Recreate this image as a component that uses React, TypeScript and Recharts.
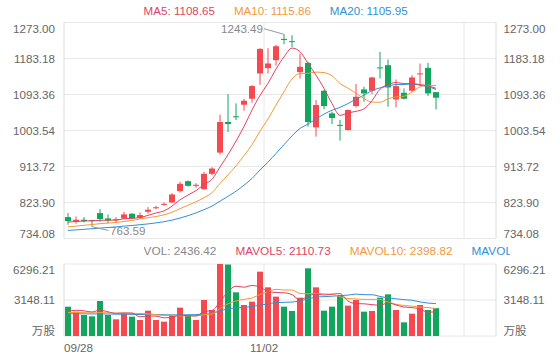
import { ComposedChart, Bar, Line, XAxis, YAxis, CartesianGrid, ReferenceLine, ReferenceDot, Cell } from 'recharts'

const RED = '#f5484f'
const GREEN = '#12a55c'
const C5 = '#e04462'
const C10 = '#f39a38'
const C20 = '#3390d4'
const GRID = '#e8e8e8'
const AXIS = '#dcdcdc'
const LABEL = '#666'
const FONT = '"Liberation Sans", Arial, "Noto Sans CJK SC", sans-serif'
const FS = 11.6

const DATES = [
  '09/28', '10/01', '10/02', '10/03', '10/04', '10/05', '10/08', '10/09', '10/10', '10/11',
  '10/12', '10/15', '10/16', '10/17', '10/18', '10/19', '10/22', '10/23', '10/24', '10/25',
  '10/26', '10/29', '10/30', '10/31', '11/01', '11/02', '11/05', '11/06', '11/07', '11/08',
  '11/09', '11/12', '11/13', '11/14', '11/15', '11/16', '11/19', '11/20', '11/21', '11/23',
  '11/26', '11/27', '11/28', '11/29', '11/30', '12/03', '12/04',
]

const OPEN = [
  787.5, 775.9, 780.9, 779.9, 797.5, 784.2, 780.0, 784.2, 795.8, 785.9,
  800.8, 810.0, 818.5, 824.0, 852.2, 877.1, 866.0, 857.2, 895.4, 948.4,
  1024.7, 1039.0, 1067.9, 1082.8, 1145.8, 1159.1, 1179.0, 1232.0, 1226.5, 1149.1,
  1172.3, 1011.4, 1102.7, 1046.3, 1017.5, 1004.8, 1064.5, 1106.0, 1102.7, 1161.0,
  1166.5, 1081.1, 1097.7, 1102.7, 1144.0, 1159.9, 1099.3,
]
const HIGH = [
  797.5, 789.2, 787.5, 780.9, 807.4, 794.2, 787.5, 800.8, 797.5, 799.1,
  812.4, 815.7, 824.0, 847.3, 875.5, 878.8, 872.1, 900.3, 911.9, 1043.0,
  1094.4, 1071.2, 1082.8, 1117.6, 1208.8, 1208.8, 1217.1, 1243.49, 1241.2, 1195.5,
  1175.6, 1079.4, 1104.3, 1050.4, 1029.7, 1056.2, 1119.3, 1112.6, 1137.5, 1199.7,
  1180.6, 1130.9, 1108.5, 1141.6, 1170.7, 1172.3, 1099.3,
]
const LOW = [
  768.4, 770.9, 774.2, 763.59, 775.9, 772.6, 774.2, 782.5, 782.5, 782.5,
  795.8, 807.4, 815.7, 822.4, 848.9, 863.8, 860.5, 855.6, 892.0, 943.5,
  999.9, 1029.7, 1052.9, 1072.8, 1117.6, 1145.8, 1165.7, 1218.8, 1212.1, 1133.3,
  1013.1, 988.2, 1056.2, 1019.7, 978.3, 1003.1, 1061.2, 1075.3, 1094.4, 1133.3,
  1062.9, 1061.2, 1081.1, 1100.2, 1115.9, 1089.4, 1056.2,
]
const CLOSE = [
  777.6, 780.9, 777.6, 778.6, 782.5, 779.2, 782.0, 794.2, 784.2, 792.5,
  805.8, 812.0, 820.5, 843.9, 870.5, 865.5, 868.0, 895.4, 908.6, 1024.7,
  1019.8, 1037.0, 1077.8, 1114.3, 1207.2, 1170.7, 1213.8, 1230.0, 1224.5, 1162.4,
  1024.7, 1067.0, 1064.5, 1034.7, 1015.5, 1054.6, 1087.7, 1096.0, 1135.8, 1159.0,
  1111.0, 1114.3, 1082.8, 1135.8, 1146.0, 1096.0, 1085.3,
]

const MA5 = [
  775.0, 776.5, 777.6, 778.4, 779.4, 779.8, 780.0, 783.3, 784.4, 786.4,
  791.7, 797.7, 803.0, 814.9, 830.5, 842.5, 853.7, 868.7, 881.6, 912.4,
  943.3, 977.1, 1013.6, 1054.7, 1091.2, 1121.4, 1156.8, 1187.2, 1209.2, 1200.3,
  1171.0, 1141.7, 1108.6, 1070.7, 1041.3, 1047.3, 1051.4, 1057.7, 1077.9, 1106.6,
  1117.9, 1123.2, 1120.6, 1120.6, 1118.0, 1115.0, 1108.65,
]
const MA10 = [
  763.0, 765.0, 767.0, 769.0, 771.0, 772.5, 774.0, 776.5, 779.0, 782.9,
  785.8, 788.9, 793.2, 799.7, 808.5, 817.1, 825.7, 835.8, 848.3, 871.5,
  892.9, 915.4, 941.1, 968.2, 1001.8, 1032.4, 1066.9, 1100.4, 1132.0, 1145.8,
  1146.2, 1149.2, 1147.9, 1140.0, 1120.8, 1109.2, 1096.6, 1083.2, 1074.3, 1074.0,
  1082.6, 1087.3, 1089.1, 1099.3, 1112.3, 1116.4, 1115.86,
]
const MA20 = [
  754.3, 755.5, 757.0, 758.5, 760.0, 761.5, 763.0, 765.0, 766.5, 768.5,
  770.5, 773.0, 776.0, 780.0, 785.0, 791.0, 798.0, 806.0, 815.0, 827.2,
  839.3, 852.1, 867.1, 883.9, 905.2, 924.7, 946.3, 968.1, 990.1, 1008.6,
  1019.6, 1032.3, 1044.5, 1054.1, 1061.3, 1070.8, 1081.7, 1091.8, 1103.1, 1109.9,
  1114.4, 1118.3, 1118.5, 1119.6, 1116.5, 1112.8, 1105.95,
]

const VOL = [
  2563, 2128, 1836, 1720, 3061, 1836, 1458, 1982, 1691, 1399,
  2215, 1399, 1253, 1836, 2478, 1836, 1399, 3148, 2274, 6296.21,
  6250, 3819, 2711, 3002, 5626, 4256, 3440, 2565, 2186, 3352,
  5918, 4256, 2215, 2565, 3585, 2653, 3148, 2128, 2186, 3352,
  3644, 2274, 1195, 1953, 2711, 2274, 2436.42,
]
const MAVOL5 = [
  2150, 2250, 2200, 2100, 2262, 2116, 1982, 2011, 2006, 1673,
  1749, 1737, 1591, 1620, 1836, 1760, 1760, 2139, 2227, 2991,
  3873, 4357, 4270, 4416, 4282, 3883, 3807, 3778, 3615, 3160,
  3492, 3655, 3585, 3661, 3708, 3055, 2833, 2816, 2740, 2693,
  2892, 2717, 2530, 2484, 2355, 2081, 2110.73,
]
const MAVOL10 = [
  2050, 2060, 2040, 2020, 2050, 2030, 2000, 2010, 1990, 1967,
  1933, 1860, 1801, 1813, 1755, 1755, 1749, 1865, 1924, 2413,
  2817, 3059, 3205, 3321, 3636, 3878, 4082, 4024, 4015, 3721,
  3688, 3731, 3682, 3638, 3434, 3274, 3244, 3201, 3201, 3201,
  2973, 2775, 2673, 2612, 2524, 2487, 2398.82,
]
const MAVOL20 = [
  1950, 1950, 1940, 1930, 1930, 1920, 1910, 1900, 1890, 1880,
  1880, 1870, 1860, 1850, 1850, 1860, 1870, 1900, 1975, 2190,
  2375, 2459, 2503, 2567, 2695, 2816, 2916, 2945, 2969, 3067,
  3252, 3395, 3443, 3480, 3535, 3576, 3663, 3612, 3608, 3461,
  3330, 3253, 3177, 3125, 2979, 2880, 2830.14,
]

const PRICE_TICKS = [734.08, 823.9, 913.72, 1003.54, 1093.36, 1183.18, 1273.0]
const VOL_TICKS = [0, 3148.11, 6296.21]
const DATE_TICKS = [0, 25, 50]
const SLOT_COUNT = 54

const rows = DATES.map((date, i) => ({
  slot: i + 0.5,
  date,
  open: OPEN[i],
  high: HIGH[i],
  low: LOW[i],
  close: CLOSE[i],
  range: [LOW[i], HIGH[i]],
  ma5: MA5[i],
  ma10: MA10[i],
  ma20: MA20[i],
  vol: VOL[i],
  mavol5: MAVOL5[i],
  mavol10: MAVOL10[i],
  mavol20: MAVOL20[i],
}))

const Candle = (props: any) => {
  const { x, y, width, height, payload } = props
  if (x == null || y == null) return null
  const top = Math.min(y, y + height)
  const h = Math.abs(height)
  const { open, close, high, low } = payload
  const k = h / (high - low)
  const yOpen = top + (high - open) * k
  const yClose = top + (high - close) * k
  const color = close >= open ? RED : GREEN
  const cx = x + width / 2
  return (
    <g>
      <line x1={cx} x2={cx} y1={top} y2={top + h} stroke={color} strokeWidth={1} />
      <rect x={x} y={Math.min(yOpen, yClose)} width={width} height={Math.max(Math.abs(yOpen - yClose), 1)} fill={color} />
    </g>
  )
}

// y labels: top one sits under its line, bottom one above it
const yTick = (side: 'left' | 'right', min: number, max: number, fmt: (v: number) => string) => (props: any) => {
  const { x, y, payload } = props
  const v = payload.value
  const shift = v === max ? 5.8 : v === min ? -5.2 : 0
  return (
    <text
      x={side === 'left' ? x - 7 : x + 5.5}
      y={y + shift + 4.2}
      textAnchor={side === 'left' ? 'end' : 'start'}
      fill={LABEL}
      fontSize={FS}
      fontFamily={FONT}
    >
      {fmt(v)}
    </text>
  )
}

const priceFmt = (v: number) => v.toFixed(2)
const volFmt = (v: number) => (v === 0 ? '万股' : v.toFixed(2))

const DateTick = (props: any) => {
  const { x, y, payload } = props
  const label = DATES[payload.value] ?? ''
  const first = payload.value === 0
  return (
    <text x={x} y={y + 14.3} textAnchor={first ? 'start' : 'middle'} fill={LABEL} fontSize={FS} fontFamily={FONT}>
      {label}
    </text>
  )
}

const MaxMark = (props: any) => {
  const { cx, cy, value } = props
  return (
    <g>
      <line x1={cx} y1={cy} x2={cx - 20} y2={cy - 5.6} stroke="#999" strokeWidth={1} />
      <text x={cx - 21} y={cy - 1.7} textAnchor="end" fill="#888" fontSize={FS} fontFamily={FONT}>
        {value}
      </text>
    </g>
  )
}

const MinMark = (props: any) => {
  const { cx, cy, value } = props
  return (
    <g>
      <line x1={cx} y1={cy} x2={cx + 16.5} y2={cy + 3.8} stroke="#999" strokeWidth={1} />
      <text x={cx + 18} y={cy + 8.3} textAnchor="start" fill="#888" fontSize={FS} fontFamily={FONT}>
        {value}
      </text>
    </g>
  )
}

// the volume header runs past the panel and is clipped like in the source app
const header: React.CSSProperties = {
  position: 'absolute',
  left: 143.6,
  width: 366.9,
  overflow: 'hidden',
  display: 'flex',
  gap: 19,
  whiteSpace: 'nowrap',
  lineHeight: '16px',
}

export default function App() {
  const last = DATES.length - 1
  const hi = HIGH.indexOf(Math.max(...HIGH))
  const lo = LOW.indexOf(Math.min(...LOW))

  return (
    <div style={{ position: 'absolute', left: 0, top: 0, width: 560, height: 360, background: '#fff', fontFamily: FONT }}>
      <div style={{ position: 'absolute', left: 0, top: 0 }}>
        <ComposedChart width={560} height={240} data={rows} margin={{ top: 22.5, right: 0, bottom: 1.5, left: 0 }}>
          <CartesianGrid yAxisId="p" vertical={false} stroke={GRID} />
          <XAxis type="number" dataKey="slot" domain={[0, SLOT_COUNT]} ticks={DATE_TICKS} hide />
          <YAxis
            yAxisId="p"
            width={64}
            domain={[PRICE_TICKS[0], PRICE_TICKS[PRICE_TICKS.length - 1]]}
            ticks={PRICE_TICKS}
            interval={0}
            allowDataOverflow
            tickLine={false}
            tickSize={0}
            axisLine={{ stroke: AXIS }}
            tick={yTick('left', PRICE_TICKS[0], PRICE_TICKS[PRICE_TICKS.length - 1], priceFmt)}
          />
          <YAxis
            yAxisId="pr"
            orientation="right"
            width={64}
            domain={[PRICE_TICKS[0], PRICE_TICKS[PRICE_TICKS.length - 1]]}
            ticks={PRICE_TICKS}
            interval={0}
            allowDataOverflow
            tickLine={false}
            tickSize={0}
            axisLine={{ stroke: AXIS }}
            tick={yTick('right', PRICE_TICKS[0], PRICE_TICKS[PRICE_TICKS.length - 1], priceFmt)}
          />
          {DATE_TICKS.slice(1).map((t) => (
            <ReferenceLine key={t} yAxisId="p" x={t} stroke={GRID} />
          ))}
          <Bar yAxisId="p" dataKey="range" barSize={6} shape={(p: any) => <Candle {...p} />} isAnimationActive={false} />
          <Line yAxisId="p" dataKey="ma20" type="monotone" stroke={C20} strokeWidth={1} dot={false} isAnimationActive={false} />
          <Line yAxisId="p" dataKey="ma10" type="monotone" stroke={C10} strokeWidth={1} dot={false} isAnimationActive={false} />
          <Line yAxisId="p" dataKey="ma5" type="monotone" stroke={C5} strokeWidth={1} dot={false} isAnimationActive={false} />
          <ReferenceDot yAxisId="p" x={rows[hi].slot} y={HIGH[hi]} r={0} shape={(p: any) => <MaxMark {...p} value={HIGH[hi].toFixed(2)} />} />
          <ReferenceDot yAxisId="p" x={rows[lo].slot} y={LOW[lo]} r={0} shape={(p: any) => <MinMark {...p} value={LOW[lo].toFixed(2)} />} />
        </ComposedChart>
      </div>

      <div style={{ position: 'absolute', left: 0, top: 240 }}>
        <ComposedChart width={560} height={120} data={rows} margin={{ top: 24, right: 0, bottom: 0, left: 0 }}>
          <CartesianGrid yAxisId="v" vertical={false} stroke={GRID} />
          <XAxis
            type="number"
            dataKey="slot"
            domain={[0, SLOT_COUNT]}
            ticks={DATE_TICKS}
            interval={0}
            height={24}
            axisLine={false}
            tickLine={false}
            tickSize={0}
            tick={DateTick}
          />
          <YAxis
            yAxisId="v"
            width={64}
            domain={[0, VOL_TICKS[2]]}
            ticks={VOL_TICKS}
            interval={0}
            allowDataOverflow
            tickLine={false}
            tickSize={0}
            axisLine={{ stroke: AXIS }}
            tick={yTick('left', 0, VOL_TICKS[2], volFmt)}
          />
          <YAxis
            yAxisId="vr"
            orientation="right"
            width={64}
            domain={[0, VOL_TICKS[2]]}
            ticks={VOL_TICKS}
            interval={0}
            allowDataOverflow
            tickLine={false}
            tickSize={0}
            axisLine={{ stroke: AXIS }}
            tick={yTick('right', 0, VOL_TICKS[2], volFmt)}
          />
          {DATE_TICKS.slice(1).map((t) => (
            <ReferenceLine key={t} yAxisId="v" x={t} stroke={GRID} />
          ))}
          <Bar yAxisId="v" dataKey="vol" barSize={6} isAnimationActive={false}>
            {rows.map((r, i) => (
              <Cell key={i} fill={r.close >= r.open ? RED : GREEN} />
            ))}
          </Bar>
          <Line yAxisId="v" dataKey="mavol20" type="monotone" stroke={C20} strokeWidth={1} dot={false} isAnimationActive={false} />
          <Line yAxisId="v" dataKey="mavol10" type="monotone" stroke={C10} strokeWidth={1} dot={false} isAnimationActive={false} />
          <Line yAxisId="v" dataKey="mavol5" type="monotone" stroke={C5} strokeWidth={1} dot={false} isAnimationActive={false} />
        </ComposedChart>
      </div>

      <div style={{ ...header, top: 2.9, fontSize: 11.6 }}>
        <span style={{ color: C5 }}>MA5: {MA5[last].toFixed(2)}</span>
        <span style={{ color: C10 }}>MA10: {MA10[last].toFixed(2)}</span>
        <span style={{ color: C20 }}>MA20: {MA20[last].toFixed(2)}</span>
      </div>
      <div style={{ ...header, top: 242.6, fontSize: 11.8 }}>
        <span style={{ color: '#888' }}>VOL: {VOL[last].toFixed(2)}</span>
        <span style={{ color: C5 }}>MAVOL5: {MAVOL5[last].toFixed(2)}</span>
        <span style={{ color: C10 }}>MAVOL10: {MAVOL10[last].toFixed(2)}</span>
        <span style={{ color: C20 }}>MAVOL20: {MAVOL20[last].toFixed(2)}</span>
      </div>
    </div>
  )
}
